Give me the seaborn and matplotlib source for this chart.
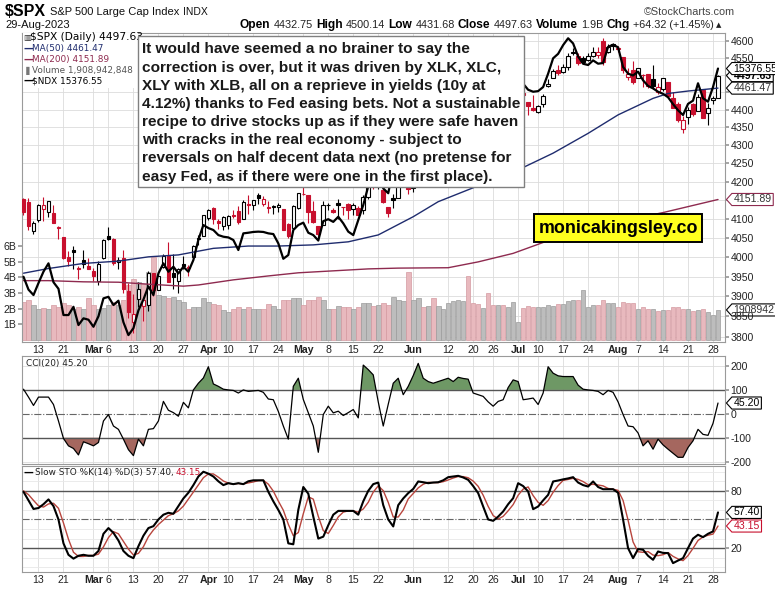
import numpy as np
import pandas as pd
import matplotlib
matplotlib.use("Agg")
import matplotlib.pyplot as plt
import seaborn as sns
from matplotlib.path import Path
from matplotlib.patches import Rectangle
from matplotlib.ticker import FixedLocator, NullLocator, FixedFormatter
from matplotlib.transforms import blended_transform_factory, IdentityTransform

# ------------------------------------------------------------------ data
holidays = ["2023-02-20", "2023-04-07", "2023-05-29", "2023-06-19", "2023-07-04"]
trade_days = pd.bdate_range("2023-02-08", "2023-08-29", freq="C", holidays=holidays)

prev_close = 4164.00
opens = [4153.00, 4144.25, 4068.92, 4096.62, 4126.70, 4119.50, 4114.75, 4077.39, 4052.35, 4001.83,
         4018.60, 3973.24, 3992.36, 3977.19, 3963.34, 3938.68, 3998.02, 4055.15, 4048.26, 3987.55,
         3998.66, 3912.77, 3835.12, 3894.01, 3876.74, 3878.93, 3958.69, 3917.47, 3975.89, 4002.04,
         3959.21, 3939.21, 3982.93, 3974.13, 3999.53, 4046.74, 4056.18, 4102.20, 4128.03, 4094.50,
         4081.15, 4085.20, 4110.29, 4121.72, 4100.04, 4140.11, 4137.17, 4164.26, 4139.33, 4130.48,
         4132.14, 4132.07, 4126.43, 4087.78, 4075.29, 4129.63, 4166.79, 4164.10, 4122.25, 4082.61,
         4084.73, 4136.98, 4124.25, 4143.74, 4132.24, 4138.54, 4126.65, 4127.95, 4122.85, 4157.68,
         4204.15, 4190.78, 4176.80, 4132.96, 4155.71, 4156.16, 4226.71, 4190.74, 4183.03, 4241.01,
         4282.99, 4271.34, 4285.47, 4268.69, 4304.88, 4308.32, 4352.61, 4366.29, 4365.33, 4440.95,
         4396.11, 4380.01, 4355.40, 4354.17, 4344.84, 4337.36, 4367.48, 4374.94, 4422.44, 4450.48,
         4442.04, 4422.62, 4404.54, 4394.23, 4415.55, 4467.69, 4491.50, 4514.61, 4508.86, 4521.78,
         4563.87, 4554.38, 4550.16, 4543.39, 4555.19, 4558.96, 4598.26, 4565.75, 4584.82, 4578.83,
         4550.93, 4494.27, 4513.96, 4491.58, 4498.03, 4501.57, 4487.16, 4450.69, 4458.13, 4478.87,
         4433.79, 4416.32, 4344.88, 4380.28, 4415.33, 4396.44, 4455.16, 4389.38, 4426.03, 4432.75]
highs = [4156.85, 4156.23, 4094.36, 4138.90, 4159.77, 4148.11, 4136.54, 4081.51, 4052.35, 4017.37,
         4028.30, 3978.25, 4018.05, 3997.50, 3971.73, 3990.84, 4048.29, 4078.49, 4050.00, 4000.41,
         4017.81, 3934.05, 3905.05, 3937.29, 3894.26, 3964.46, 3958.91, 3956.62, 4009.08, 4039.49,
         4007.66, 3972.74, 4003.83, 3979.20, 4030.59, 4057.85, 4110.75, 4127.66, 4133.13, 4099.69,
         4107.32, 4109.50, 4124.26, 4134.37, 4150.26, 4163.19, 4151.72, 4169.48, 4162.57, 4148.57,
         4138.02, 4142.41, 4126.43, 4089.67, 4138.24, 4170.06, 4186.92, 4164.10, 4148.30, 4082.61,
         4147.02, 4142.30, 4130.35, 4154.28, 4132.80, 4143.74, 4141.25, 4135.54, 4164.67, 4202.20,
         4212.91, 4209.22, 4185.68, 4132.96, 4165.74, 4212.87, 4231.10, 4195.44, 4232.43, 4290.67,
         4299.28, 4288.33, 4299.19, 4298.01, 4322.62, 4340.13, 4375.37, 4391.82, 4439.20, 4448.47,
         4400.15, 4386.22, 4382.25, 4366.55, 4362.06, 4384.42, 4390.35, 4398.39, 4458.48, 4456.46,
         4454.06, 4422.62, 4440.39, 4412.60, 4443.64, 4488.34, 4517.38, 4527.76, 4532.85, 4562.30,
         4578.43, 4564.74, 4555.00, 4563.41, 4580.62, 4582.47, 4607.07, 4590.16, 4594.22, 4584.62,
         4550.93, 4519.49, 4540.34, 4519.84, 4503.31, 4502.44, 4527.37, 4476.23, 4490.33, 4478.87,
         4449.95, 4421.17, 4381.82, 4407.55, 4418.59, 4443.18, 4458.30, 4418.46, 4439.56, 4500.14]
lows = [4111.67, 4069.67, 4060.79, 4092.67, 4095.01, 4103.98, 4089.49, 4047.95, 3995.19, 3976.90,
        3969.19, 3943.08, 3973.55, 3968.98, 3939.05, 3928.16, 3995.17, 4044.61, 3980.31, 3969.76,
        3908.70, 3846.32, 3808.86, 3873.63, 3838.24, 3864.11, 3901.27, 3916.89, 3971.19, 3936.17,
        3919.05, 3909.16, 3970.47, 3951.53, 3999.53, 4032.10, 4056.18, 4097.38, 4086.87, 4072.56,
        4069.84, 4072.55, 4102.61, 4086.94, 4099.40, 4113.20, 4123.18, 4140.36, 4134.49, 4114.57,
        4113.86, 4117.77, 4071.38, 4049.35, 4075.29, 4127.18, 4164.12, 4089.72, 4088.86, 4048.28,
        4084.73, 4123.81, 4116.65, 4098.92, 4109.29, 4099.12, 4110.27, 4109.86, 4113.62, 4153.50,
        4180.20, 4179.68, 4142.54, 4103.98, 4129.73, 4156.16, 4192.18, 4166.15, 4171.64, 4241.01,
        4266.82, 4263.09, 4263.96, 4261.07, 4291.70, 4304.37, 4337.71, 4337.85, 4362.60, 4407.44,
        4367.19, 4360.14, 4351.82, 4341.34, 4328.08, 4335.00, 4360.22, 4371.97, 4422.44, 4442.29,
        4436.61, 4385.05, 4397.40, 4389.92, 4408.46, 4463.23, 4489.36, 4499.56, 4504.90, 4514.59,
        4557.48, 4527.56, 4535.79, 4541.29, 4552.42, 4547.58, 4528.56, 4564.01, 4573.14, 4567.53,
        4505.75, 4485.54, 4474.55, 4491.15, 4464.39, 4461.33, 4457.92, 4443.98, 4453.44, 4432.19,
        4403.55, 4364.83, 4335.31, 4360.30, 4382.77, 4396.44, 4375.55, 4356.29, 4414.98, 4431.68]
closes = [4117.86, 4081.50, 4090.46, 4137.29, 4136.13, 4147.60, 4090.41, 4079.09, 3997.34, 3991.05,
          4012.32, 3970.04, 3982.24, 3970.15, 3951.39, 3981.35, 4045.64, 4048.42, 3986.37, 3992.01,
          3918.32, 3861.59, 3855.76, 3919.29, 3891.93, 3960.28, 3916.64, 3951.57, 4002.87, 3936.97,
          3948.72, 3970.99, 3977.53, 3971.27, 4027.81, 4050.83, 4109.31, 4124.51, 4100.60, 4090.38,
          4105.02, 4109.11, 4108.94, 4091.95, 4146.22, 4137.64, 4151.32, 4154.87, 4154.52, 4129.79,
          4133.52, 4137.04, 4071.63, 4055.99, 4135.35, 4169.48, 4167.87, 4119.58, 4090.75, 4061.22,
          4136.25, 4138.12, 4119.17, 4137.64, 4130.62, 4124.08, 4136.28, 4109.90, 4158.77, 4198.05,
          4191.98, 4192.63, 4145.58, 4115.24, 4151.28, 4205.45, 4205.52, 4179.83, 4221.02, 4282.37,
          4273.79, 4283.85, 4267.52, 4293.93, 4298.86, 4338.93, 4369.01, 4372.59, 4425.84, 4409.59,
          4388.71, 4365.69, 4381.89, 4348.33, 4328.82, 4378.41, 4376.86, 4396.44, 4450.38, 4455.59,
          4446.82, 4411.59, 4398.95, 4409.53, 4439.26, 4472.16, 4510.04, 4505.42, 4522.79, 4554.98,
          4565.72, 4534.87, 4536.34, 4554.64, 4567.46, 4566.75, 4537.41, 4582.23, 4588.96, 4576.73,
          4513.39, 4501.89, 4478.03, 4518.44, 4499.38, 4467.71, 4468.83, 4464.05, 4489.72, 4437.86,
          4404.33, 4370.36, 4369.71, 4399.77, 4387.55, 4436.01, 4376.31, 4405.71, 4433.31, 4497.63]
volume_b = [2.43, 2.54, 2.22, 2.00, 2.05, 2.00, 2.22, 2.10, 2.37, 2.22,
            2.00, 2.10, 1.94, 2.65, 2.22, 2.00, 2.05, 2.22, 2.43, 2.22,
            2.54, 3.50, 3.90, 3.72, 3.60, 4.35, 5.30, 2.85, 2.78, 2.65,
            2.76, 2.54, 2.43, 2.00, 2.10, 2.10, 2.65, 2.43, 2.28, 2.22,
            1.90, 1.80, 1.94, 2.10, 2.00, 2.07, 2.00, 2.00, 2.00, 2.30,
            2.15, 2.00, 2.54, 2.58, 2.65, 2.65, 2.22, 2.58, 2.54, 2.76,
            2.54, 2.00, 2.00, 2.15, 2.07, 2.07, 1.94, 2.10, 2.37, 2.37,
            2.15, 2.22, 2.33, 2.22, 2.71, 2.54, 2.48, 4.35, 2.54, 2.65,
            2.07, 2.15, 2.65, 2.15, 2.00, 2.33, 2.50, 2.54, 2.50, 4.08,
            2.37, 2.28, 2.05, 3.00, 2.22, 2.22, 2.22, 2.11, 2.43, 1.15,
            2.05, 2.15, 2.07, 2.07, 2.07, 2.22, 2.15, 2.28, 2.28, 2.50,
            2.54, 2.54, 3.18, 2.11, 2.22, 2.22, 2.58, 2.37, 2.33, 2.07,
            2.43, 2.37, 2.33, 1.94, 2.07, 1.98, 2.00, 1.83, 1.90, 1.90,
            2.11, 2.07, 1.94, 1.94, 1.83, 1.90, 2.00, 1.79, 1.58, 1.909]
ndx = [12537, 12380, 12314, 12460, 12600, 12703, 12470, 12390, 12075, 12075,
       12173, 11957, 12036, 12020, 11937, 12060, 12274, 12293, 12194, 12246,
       11990, 11840, 11920, 12130, 12260, 12420, 12314, 12578, 12703, 12599,
       12661, 12578, 12661, 12599, 12744, 13000, 13189, 13150, 13125, 13060,
       13039, 13030, 12997, 12870, 13082, 13090, 13100, 13104, 13100, 13082,
       13073, 12954, 12760, 12807, 13125, 13189, 13220, 13090, 13060, 12990,
       13240, 13265, 13230, 13297, 13211, 13104, 13060, 13254, 13450, 13700,
       13810, 13868, 13672, 13607, 13941, 14298, 14359, 14254, 14465, 14546,
       14559, 14542, 14288, 14467, 14526, 14733, 14856, 14950, 15138, 14998,
       14917, 14712, 14892, 14724, 14522, 14760, 14787, 14734, 15179, 15190,
       15150, 15060, 15031, 15040, 15100, 15300, 15532, 15600, 15734, 15840,
       15760, 15560, 15449, 15430, 15500, 15450, 15460, 15707, 15740, 15700,
       15400, 15300, 15273, 15330, 15200, 15117, 15080, 15031, 15000, 14950,
       14850, 14760, 14692, 14853, 14900, 15156, 14935, 14885, 15100, 15376.55]
ma50_dates = ["2023-02-08", "2023-02-15", "2023-02-27", "2023-03-08", "2023-03-16", "2023-03-24",
              "2023-04-04", "2023-04-14", "2023-04-24", "2023-05-03", "2023-05-12", "2023-05-22",
              "2023-06-01", "2023-06-08", "2023-07-03", "2023-07-13", "2023-07-24", "2023-08-01",
              "2023-08-10", "2023-08-15", "2023-08-21", "2023-08-29"]
ma50_vals = [3959, 3971, 3984, 3990, 4001, 4006, 4023, 4029, 4029, 4032, 4040, 4058,
             4106, 4146, 4232, 4278, 4333, 4385, 4432, 4446, 4453, 4461.47]
ma200_dates = ["2023-02-08", "2023-02-15", "2023-02-27", "2023-03-08", "2023-03-16", "2023-03-27",
               "2023-03-30", "2023-04-11", "2023-04-20", "2023-04-28", "2023-05-09", "2023-05-18",
               "2023-05-26", "2023-06-12", "2023-06-21", "2023-06-30", "2023-07-12", "2023-07-17",
               "2023-08-14", "2023-08-29"]
ma200_vals = [3940, 3940, 3937, 3936, 3931, 3926, 3929, 3942, 3952, 3960, 3965, 3970,
              3972, 3973, 3988, 4010, 4043, 4063, 4117, 4151.89]
cci = [103, 70, 35, 70, 70, 70, 39, -30, -103, -134,
       -145, -172, -117, -125, -134, -120, -30, -3, -51, -65,
       -106, -150, -175, -106, -134, -65, -62, -30, 52, 15,
       5, -10, 48, 25, 100, 128, 150, 197, 125, 115,
       103, 100, 98, 87, 100, 94, 96, 98, 90, 62,
       59, 10, -51, -106, 115, 149, 60, 4, -51, -161,
       -3, 32, 4, 11, -7, 5, 18, -17, 204, 185,
       163, 50, -51, 40, 128, 149, 80, 115, 160, 211,
       149, 135, 128, 135, 142, 149, 135, 153, 148, 145,
       87, 80, 73, 50, 32, 52, 59, 110, 142, 135,
       59, 62, 66, 39, 87, 197, 170, 159, 156, 156,
       156, 120, 103, 100, 98, 94, 80, 98, 90, 50,
       -3, -51, -54, -80, -134, -113, -148, -106, -130, -148,
       -165, -182, -182, -141, -113, -65, -86, -90, -40, 45.20]
sto_k = [79, 70, 61, 62, 66, 71, 64, 50, 25, 13,
         9, 12, 13, 12, 12, 17, 35, 41, 36, 28,
         17, 12, 9.5, 22, 33, 41, 43, 50, 55, 57,
         56, 64, 72, 78, 86, 95, 100, 98, 95, 90,
         86, 88, 87, 88, 87, 90, 91, 91, 91, 79,
         69, 60, 50, 25, 24, 60, 84, 77, 53, 30,
         32, 44, 55, 59, 59, 59, 59, 55, 69, 80,
         87, 88.7, 65, 50, 42.7, 65, 72, 77.6, 82, 89.8,
         89, 88, 88.7, 89, 91, 94.3, 95, 95.7, 94, 91.5,
         85, 77.6, 63.6, 50, 48.6, 53, 58.4, 66, 72.3, 88,
         85, 79.3, 60.8, 63.6, 70, 75.8, 89.8, 90.8, 92, 93,
         94.3, 88.7, 86, 84.5, 89.8, 84, 81.7, 81.7, 81.7, 78,
         50, 20, 9.5, 19, 18.3, 12, 7.8, 16.5, 15, 14.8,
         4.3, 7, 9.5, 20, 30, 34, 31.5, 35, 37.5, 57.40]
sto_d = [80, 76, 70, 64.3, 63, 66.3, 67, 61.7, 46.3, 29.3,
         15.7, 11.3, 11.3, 12.3, 12.3, 13.7, 21.3, 31, 37.3, 35,
         27, 19, 12.8, 14.5, 21.5, 32, 39, 44.7, 49.3, 54,
         56, 59, 64, 71.3, 78.7, 86.3, 93.7, 97.7, 97.7, 94.3,
         90.3, 88, 87, 87.7, 87.3, 88.3, 89.3, 90.7, 91, 87,
         79.7, 69.3, 59.7, 45, 33, 36.3, 56, 73.7, 71.3, 53.3,
         38.3, 35.3, 43.7, 52.7, 57.7, 59, 59, 57.7, 61, 68,
         78.7, 85.2, 80.2, 67.9, 52.6, 52.6, 59.9, 71.5, 77.2, 83.1,
         86.9, 88.9, 88.6, 88.6, 89.6, 91.4, 93.4, 95, 94.9, 93.7,
         90.2, 84.7, 75.4, 63.7, 54.1, 50.5, 53.3, 59.1, 65.6, 75.4,
         81.8, 84.1, 75, 67.9, 64.8, 69.8, 78.5, 85.5, 90.9, 91.9,
         93.1, 92, 89.7, 86.4, 86.8, 86.1, 85.2, 82.5, 81.7, 80.5,
         69.9, 49.3, 26.5, 16.2, 15.6, 16.4, 12.7, 12.1, 13.1, 15.4,
         11.4, 8.7, 6.9, 12.2, 19.8, 28, 31.8, 33.5, 34.7, 43.15]

tick_dates = ["2023-02-13", "2023-02-21", "2023-03-01", "2023-03-06", "2023-03-13", "2023-03-20",
              "2023-03-27", "2023-04-03", "2023-04-10", "2023-04-17", "2023-04-24", "2023-05-01",
              "2023-05-08", "2023-05-15", "2023-05-22", "2023-06-01", "2023-06-12", "2023-06-20",
              "2023-06-26", "2023-07-03", "2023-07-10", "2023-07-17", "2023-07-24", "2023-08-01",
              "2023-08-07", "2023-08-14", "2023-08-21", "2023-08-28"]
tick_labels = ["13", "21", "Mar", "6", "13", "20", "27", "Apr", "10", "17", "24", "May", "8", "15",
               "22", "Jun", "12", "20", "26", "Jul", "10", "17", "24", "Aug", "7", "14", "21", "28"]
month_names = ["Mar", "Apr", "May", "Jun", "Jul", "Aug"]
price_ticks = list(range(3800, 4601, 50))
price_hidden = [4150, 4450, 4500]          # labels covered by value tags in the reference
vol_ticks = [1, 2, 3, 4, 5, 6]
vol_tick_labels = ["1B", "2B", "3B", "4B", "5B", "6B"]
cci_ticks = [200, 100, 0, -100, -200]
sto_ticks = [80, 50, 20]

note_lines = ["It would have seemed a no brainer to say the",
              "correction is over, but it was driven by XLK, XLC,",
              "XLY with XLB, all on a reprieve in yields (10y at",
              "4.12%) thanks to Fed easing bets. Not a sustainable",
              "recipe to drive stocks up as if they were safe haven",
              "with cracks in the real economy - subject to",
              "reversals on half decent data next (no pretense for",
              "easy Fed, as if there were one in the first place)."]

# ------------------------------------------------------------------ setup
assert len(trade_days) == len(closes) == len(ndx) == len(cci) == len(sto_k) == len(sto_d) == len(volume_b)
opens, highs, lows, closes = map(np.asarray, (opens, highs, lows, closes))
cci = np.asarray(cci, float)
xpos = np.arange(len(trade_days))
pos_of = lambda ds: trade_days.get_indexer(pd.to_datetime(ds))
tick_pos = pos_of(tick_dates)

sns.set_theme(style="white")
SANS = ["Liberation Sans", "DejaVu Sans"]
NARROW = ["Liberation Sans Narrow", "Liberation Sans", "DejaVu Sans"]
VERD = ["DejaVu Sans"]
plt.rcParams["font.family"] = SANS
plt.rcParams["axes.unicode_minus"] = False

W, H = 775, 590
fig = plt.figure(figsize=(W / 100, H / 100), dpi=100)
fig.patch.set_facecolor("white")
PX = IdentityTransform()


def rect(x0, y0, x1, y1):
    return [x0 / W, 1 - y1 / H, (x1 - x0) / W, (y1 - y0) / H]


def ftext(x, y, s, **kw):
    kw.setdefault("va", "center")
    return fig.text(x, H - y, s, transform=PX, **kw)


XL = (-0.3, 140.4)
GRID = "#dcdcdc"
SPINE = "#9a9a9a"
RED = "#c8102e"
NAVY = "#1f2c6e"
MAROON = "#8e2a4f"
TICKFS = 7.6


def tag_box(x0, y0, width, height, mutation_size):
    pad = 0.22 * mutation_size
    x0, y0 = x0 - pad * 0.7, y0 - pad * 0.45
    width, height = width + 1.4 * pad, height + 0.9 * pad
    tip = height * 0.45
    verts = [(x0 - tip, y0 + height / 2), (x0, y0 + height), (x0 + width, y0 + height),
             (x0 + width, y0), (x0, y0), (x0 - tip, y0 + height / 2)]
    codes = [Path.MOVETO] + [Path.LINETO] * 4 + [Path.CLOSEPOLY]
    return Path(verts, codes)


def tag(axis, yv, s, tc="black", ec="black", weight="normal", z=20):
    tr = blended_transform_factory(axis.transAxes, axis.transData)
    axis.text(1 + 8.5 / 703, yv, s, transform=tr, ha="left", va="center", fontsize=TICKFS,
              color=tc, weight=weight, zorder=z, clip_on=False, family=SANS,
              bbox=dict(boxstyle=tag_box, fc="white", ec=ec, lw=0.8))


def style_axis(a, show_dates):
    a.set_xlim(*XL)
    a.set_xticks(tick_pos)
    if show_dates:
        a.set_xticklabels(tick_labels)
        for lab in a.get_xticklabels():
            if lab.get_text() in month_names:
                lab.set_fontweight("bold")
    else:
        a.set_xticklabels([])
    a.tick_params(axis="x", length=0, pad=2, labelsize=TICKFS, colors="#222")
    a.grid(axis="x", color=GRID, lw=0.6)
    a.set_axisbelow(True)
    for sp in a.spines.values():
        sp.set_color(SPINE)
        sp.set_linewidth(0.8)


# ------------------------------------------------------------------ price panel
ax_vol = fig.add_axes(rect(22, 33, 725, 342))
ax = ax_vol.twinx()
ax_ndx = ax_vol.twinx()
style_axis(ax_vol, True)

PLO, PHI = 3787, 4623
for p in price_ticks:
    f = np.log(p / PLO) / np.log(PHI / PLO)
    ax_vol.plot([0, 1], [f, f], transform=ax_vol.transAxes, color=GRID, lw=0.6, zorder=0.5)

prev = np.r_[prev_close, closes[:-1]]
up_day = closes >= prev
vcol = np.where(up_day, "#bdbdbd", "#e8b9be")
vedge = np.where(up_day, "#9c9c9c", "#d49aa1")
ax_vol.bar(xpos, volume_b, width=0.92, color=vcol, edgecolor=vedge, linewidth=0.5, zorder=2)
ax_vol.set_ylim(-0.15, 19.7)
ax_vol.yaxis.set_major_locator(FixedLocator(vol_ticks))
ax_vol.yaxis.set_major_formatter(FixedFormatter(vol_tick_labels))
ax_vol.tick_params(axis="y", length=3, pad=1, labelsize=TICKFS, colors="#222", color=SPINE)

# candles
ccol = np.where(up_day, "black", RED)
filled = closes < opens
ax.vlines(xpos, lows, highs, colors=ccol, linewidth=0.8, zorder=3)
body_lo = np.minimum(opens, closes)
body_h = np.maximum(np.abs(closes - opens), 0.9)
face = [c if f else "white" for c, f in zip(ccol, filled)]
ax.bar(xpos, body_h, bottom=body_lo, width=0.72, color=face, edgecolor=ccol, linewidth=0.8, zorder=4)
sns.lineplot(x=pos_of(ma50_dates), y=ma50_vals, ax=ax, color=NAVY, linewidth=1.0, zorder=5)
sns.lineplot(x=pos_of(ma200_dates), y=ma200_vals, ax=ax, color=MAROON, linewidth=1.0, zorder=5)
ax.set_yscale("log")
ax.set_ylim(PLO, PHI)
ax.set_xlim(*XL)
ax.yaxis.set_major_locator(FixedLocator(price_ticks))
ax.yaxis.set_major_formatter(FixedFormatter(["" if p in price_hidden else str(p) for p in price_ticks]))
ax.yaxis.set_minor_locator(NullLocator())
ax.tick_params(axis="y", length=3, pad=1, labelsize=TICKFS, colors="#222", color=SPINE)
ax.set_xlabel("")
ax.set_ylabel("")
for sp in ax.spines.values():
    sp.set_visible(False)

sns.lineplot(x=xpos, y=ndx, ax=ax_ndx, color="black", linewidth=1.6, zorder=6)
ax_ndx.set_yscale("log")
ax_ndx.set_ylim(11760, 15922)
ax_ndx.set_xlim(*XL)
ax_ndx.yaxis.set_visible(False)
ax_ndx.set_xlabel("")
for sp in ax_ndx.spines.values():
    sp.set_visible(False)

tag(ax_ndx, ndx[-1], "15376.55", z=18)
tag(ax, closes[-1], "4497.63", weight="bold", z=22)
tag(ax, ma50_vals[-1], "4461.47", tc="#333", z=21)
tag(ax, ma200_vals[-1], "4151.89", tc="#333", ec=MAROON, z=21)
tag(ax_vol, volume_b[-1], "1908942", tc="#333", z=21)

# ------------------------------------------------------------------ CCI panel
ax_cci = fig.add_axes(rect(22, 356, 725, 464))
style_axis(ax_cci, False)
ax_cci.fill_between(xpos, 100, cci, where=cci >= 100, interpolate=True, color="#6e9865", lw=0, zorder=2)
ax_cci.fill_between(xpos, -100, cci, where=cci <= -100, interpolate=True, color="#a5675f", lw=0, zorder=2)
for lv in (200, -200):
    ax_cci.axhline(lv, color=GRID, lw=0.6, zorder=1)
for lv in (100, -100):
    ax_cci.axhline(lv, color="#555555", lw=1.0, zorder=2.5)
ax_cci.axhline(0, color="#666666", lw=0.8, ls="-.", zorder=2.5)
sns.lineplot(x=xpos, y=cci, ax=ax_cci, color="black", linewidth=0.9, zorder=3)
ax_cci.set_xlim(*XL)
ax_cci.set_ylim(-210, 242)
ax_cci.set_xlabel("")
ax_cci.set_ylabel("")
ax_cci.yaxis.tick_right()
ax_cci.set_yticks(cci_ticks)
ax_cci.set_yticklabels([str(v) for v in cci_ticks])
ax_cci.tick_params(axis="y", length=3, pad=1, labelsize=TICKFS, colors="#222", color=SPINE)
tag(ax_cci, cci[-1], "45.20")

# ------------------------------------------------------------------ STO panel
ax_sto = fig.add_axes(rect(22, 466, 725, 572))
style_axis(ax_sto, True)
ax_sto.set_yticks(list(range(0, 101, 10)), minor=True)
ax_sto.yaxis.grid(True, which="minor", color="#e8e8e8", lw=0.6)
for lv in (80, 20):
    ax_sto.axhline(lv, color="#555555", lw=1.0, zorder=2)
ax_sto.axhline(50, color="#666666", lw=0.8, ls="-.", zorder=2)
sns.lineplot(x=xpos, y=sto_d, ax=ax_sto, color="#b8453d", linewidth=1.0, zorder=3)
sns.lineplot(x=xpos, y=sto_k, ax=ax_sto, color="black", linewidth=1.5, zorder=4)
ax_sto.set_xlim(*XL)
ax_sto.set_ylim(-5, 106)
ax_sto.set_xlabel("")
ax_sto.set_ylabel("")
ax_sto.yaxis.tick_right()
ax_sto.set_yticks(sto_ticks)
ax_sto.set_yticklabels([str(v) for v in sto_ticks])
ax_sto.tick_params(axis="y", which="major", length=3, pad=1, labelsize=TICKFS, colors="#222", color=SPINE)
ax_sto.tick_params(axis="y", which="minor", length=0)
tag(ax_sto, sto_k[-1], "57.40", z=21)
tag(ax_sto, sto_d[-1], "43.15", tc=RED, ec=RED, z=20)

# ------------------------------------------------------------------ texts
fig.canvas.draw()
R = fig.canvas.get_renderer()


def run(x, y, chunks, align="left", gap=3.0, z=8):
    objs = [ftext(0, y, s, ha="left", zorder=z, **kw) for s, kw in chunks]
    widths = [o.get_window_extent(R).width for o in objs]
    total = sum(widths) + gap * (len(objs) - 1)
    cur = x if align == "left" else x - total
    for o, w in zip(objs, widths):
        o.set_position((cur, H - y))
        cur += w + gap
    return objs


# header
run(5, 12, [("$SPX", dict(fontsize=11.5, weight="bold", family=NARROW, color="black")),
            ("S&P 500 Large Cap Index", dict(fontsize=8.0, family=NARROW, color="#111")),
            ("INDX", dict(fontsize=7.5, family=NARROW, color="#111"))], gap=4)
ftext(5, 25, "29-Aug-2023", fontsize=8.0, family=NARROW, color="#111")
B = dict(fontsize=8.6, weight="bold", family=NARROW, color="black")
N = dict(fontsize=7.8, family=NARROW, color="#222")
run(714, 25, [("Open", B), ("4432.75", N), ("High", B), ("4500.14", N), ("Low", B), ("4431.68", N),
              ("Close", B), ("4497.63", N), ("Volume", B), ("1.9B", N), ("Chg", B),
              ("+64.32 (+1.45%)", N)], align="right", gap=3.2)
ftext(716, 25, "\u25b2", fontsize=5, family=VERD, color="#222", ha="left")
ftext(735, 12, "\u00a9StockCharts.com", fontsize=7.8, family=NARROW, color="#444", ha="right")

# legend in price panel (white backing)
fig.add_artist(Rectangle((22.6 / W, 1 - 88 / H), 115 / W, 54.5 / H, transform=fig.transFigure,
                         fc="white", ec="none", zorder=5))
LF = dict(fontsize=6.4, family=VERD)
ftext(23, 37.5, "\u25a5", fontsize=6, family=VERD, color="#333", zorder=6)
ftext(29.5, 37.5, "$SPX (Daily) 4497.63", color="black", zorder=6, fontsize=7.7, family=VERD)
for yy, s, c in [(48.5, "MA(50) 4461.47", NAVY), (59.5, "MA(200) 4151.89", MAROON),
                 (80.8, "$NDX 15376.55", "black")]:
    ftext(23.5, yy, "\u2014", fontsize=7, weight="bold", family=VERD, color=c, zorder=6)
    ftext(32.5, yy, s, color=c, zorder=6, **LF)
ftext(23, 70.2, "\u2590", fontsize=6, family=VERD, color="#777", zorder=6)
ftext(32.5, 70.2, "Volume 1,908,942,848", color="#555", zorder=6, **LF)

# CCI / STO labels
ftext(26.5, 363.5, "CCI(20) 45.20", color="#222", zorder=6, **LF)
run(23.5, 472.7, [("\u2014", dict(fontsize=7, weight="bold", family=VERD, color="black")),
                  ("Slow STO %K(14) %D(3) 57.40,", dict(color="#222", **LF)),
                  ("43.15", dict(color=RED, **LF))], gap=2)

# commentary box
fig.add_artist(Rectangle((137.5 / W, 1 - 187 / H), (523.5 - 137.5) / W, (187 - 36) / H,
                         transform=fig.transFigure, fc="white", ec="#808080", lw=1.0, zorder=7))
note_objs = [ftext(142.5, 49.5 + i * 18.15, s, fontsize=10, weight="bold", family=SANS,
                   color="#1a1a1a", zorder=8) for i, s in enumerate(note_lines)]
wmax = max(o.get_window_extent(R).width for o in note_objs)
for o in note_objs:
    o.set_fontsize(10 * 377 / wmax)

# website badge
fig.add_artist(Rectangle((534 / W, 1 - 242 / H), 168 / W, 28 / H, transform=fig.transFigure,
                         fc="#ffff1e", ec="black", lw=1.4, zorder=7))
site = ftext(618, 228.5, "monicakingsley.co", fontsize=12, weight="bold", family=SANS,
             color="black", ha="center", zorder=8)
site.set_fontsize(12 * 157 / site.get_window_extent(R).width)

fig.savefig("out.png", dpi=100, facecolor="white")
